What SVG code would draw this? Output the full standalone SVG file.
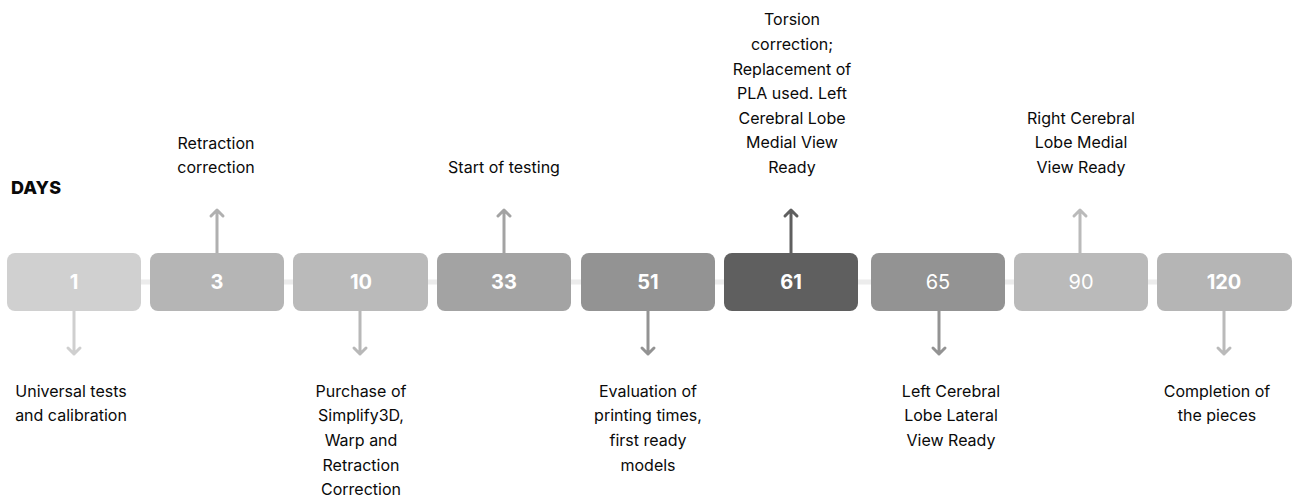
<svg xmlns="http://www.w3.org/2000/svg" width="1293" height="499" viewBox="0 0 1293 499">
<style>
.lbl{font-family:Inter,"Liberation Sans",sans-serif;font-size:16px;fill:#0a0a0a;text-anchor:middle}
.num{font-family:Inter,"Liberation Sans",sans-serif;font-size:20px;font-weight:700;fill:#fff;text-anchor:middle}
.numr{font-family:Inter,"Liberation Sans",sans-serif;font-size:20px;font-weight:400;fill:#fff;text-anchor:middle}
.days{font-family:Inter,"Liberation Sans",sans-serif;font-size:18px;font-weight:800;fill:#0a0a0a}
.arr{fill:none;stroke-width:3;stroke-linecap:round;stroke-linejoin:round}
</style>
<rect width="1293" height="499" fill="#fff"/>
<text class="days" x="11" y="194">DAYS</text>
<g id="connectors">
<line x1="7" y1="282" x2="1290" y2="282" stroke="#ececec" stroke-width="5"/>
<g class="arr" stroke="#cfcfcf"><path d="M74 311V354M68 348L74 354L80 348"/></g>
<g class="arr" stroke="#b0b0b0"><path d="M217 253V210M211 216L217 210L223 216"/></g>
<g class="arr" stroke="#b8b8b8"><path d="M360 311V354M354 348L360 354L366 348"/></g>
<g class="arr" stroke="#a3a3a3"><path d="M504 253V210M498 216L504 210L510 216"/></g>
<g class="arr" stroke="#939393"><path d="M648 311V354M642 348L648 354L654 348"/></g>
<g class="arr" stroke="#5f5f5f"><path d="M791 253V210M785 216L791 210L797 216"/></g>
<g class="arr" stroke="#939393"><path d="M939 311V354M933 348L939 354L945 348"/></g>
<g class="arr" stroke="#bababa"><path d="M1080 253V210M1074 216L1080 210L1086 216"/></g>
<g class="arr" stroke="#bababa"><path d="M1224 311V354M1218 348L1224 354L1230 348"/></g>
</g>
<g id="n1"><rect x="7" y="253" width="134" height="58" rx="8" fill="#d0d0d0"/><text class="num" x="74" y="289">1</text>
<text class="lbl" x="71" y="397">Universal tests</text><text class="lbl" x="71" y="421">and calibration</text></g>
<g id="n3"><rect x="150" y="253" width="134" height="58" rx="8" fill="#b5b5b5"/><text class="num" x="217" y="289">3</text>
<text class="lbl" x="216" y="149">Retraction</text><text class="lbl" x="216" y="173">correction</text></g>
<g id="n10"><rect x="293" y="253" width="135" height="58" rx="8" fill="#bababa"/><text class="num" x="361" y="289">10</text>
<text class="lbl" x="361" y="397">Purchase of</text><text class="lbl" x="361" y="421">Simplify3D,</text><text class="lbl" x="361" y="446">Warp and</text><text class="lbl" x="361" y="471">Retraction</text><text class="lbl" x="361" y="495">Correction</text></g>
<g id="n33"><rect x="437" y="253" width="134" height="58" rx="8" fill="#a3a3a3"/><text class="num" x="504" y="289">33</text>
<text class="lbl" x="504" y="173">Start of testing</text></g>
<g id="n51"><rect x="581" y="253" width="134" height="58" rx="8" fill="#939393"/><text class="num" x="648" y="289">51</text>
<text class="lbl" x="648" y="397">Evaluation of</text><text class="lbl" x="648" y="421">printing times,</text><text class="lbl" x="648" y="446">first ready</text><text class="lbl" x="648" y="471">models</text></g>
<g id="n61"><rect x="724" y="253" width="134" height="58" rx="8" fill="#5f5f5f"/><text class="num" x="791" y="289">61</text>
<text class="lbl" x="792" y="25">Torsion</text><text class="lbl" x="792" y="50">correction;</text><text class="lbl" x="792" y="75">Replacement of</text><text class="lbl" x="792" y="99">PLA used. Left</text><text class="lbl" x="792" y="124">Cerebral Lobe</text><text class="lbl" x="792" y="148">Medial View</text><text class="lbl" x="792" y="173">Ready</text></g>
<g id="n65"><rect x="871" y="253" width="134" height="58" rx="8" fill="#939393"/><text class="numr" x="938" y="289">65</text>
<text class="lbl" x="951" y="397">Left Cerebral</text><text class="lbl" x="951" y="421">Lobe Lateral</text><text class="lbl" x="951" y="446">View Ready</text></g>
<g id="n90"><rect x="1014" y="253" width="134" height="58" rx="8" fill="#bababa"/><text class="numr" x="1081" y="289">90</text>
<text class="lbl" x="1081" y="124">Right Cerebral</text><text class="lbl" x="1081" y="148">Lobe Medial</text><text class="lbl" x="1081" y="173">View Ready</text></g>
<g id="n120"><rect x="1157" y="253" width="135" height="58" rx="8" fill="#b5b5b5"/><text class="num" x="1224" y="289">120</text>
<text class="lbl" x="1217" y="397">Completion of</text><text class="lbl" x="1217" y="421">the pieces</text></g>
</svg>
